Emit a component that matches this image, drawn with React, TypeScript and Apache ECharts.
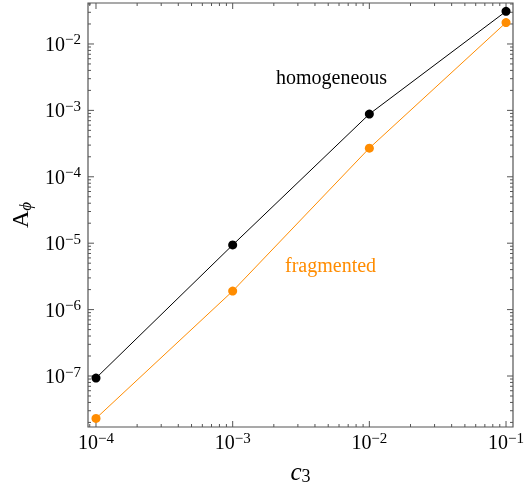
import React, { useEffect, useRef } from 'react';
import * as echarts from 'echarts';

// ---- data ----
const cValues = [1e-4, 1e-3, 1e-2, 1e-1];
const homogeneous = [9.3e-8, 9.4e-6, 8.8e-4, 3.1e-2];
const fragmented = [2.3e-8, 1.9e-6, 2.7e-4, 2.1e-2];
const xTickExponents = [-4, -3, -2, -1];
const yTickExponents = [-7, -6, -5, -4, -3, -2];
const seriesNames = ['homogeneous', 'fragmented'];

const X_MIN = Math.pow(10, -4.0585);
const X_MAX = Math.pow(10, -0.949);
const Y_MIN = Math.pow(10, -7.768);
const Y_MAX = Math.pow(10, -1.383);

const ORANGE = '#ff8c00';
const FRAME = '#555555';
const FONT = '"Liberation Serif", "DejaVu Serif", serif';

function tickList(min: number, max: number): number[][] {
  const out: number[][] = [];
  const lo = Math.floor(Math.log10(min));
  const hi = Math.ceil(Math.log10(max));
  for (let e = lo; e <= hi; e++) {
    for (let m = 1; m <= 9; m++) {
      const v = m * Math.pow(10, e);
      if (v >= min && v <= max) out.push([v, m === 1 ? 1 : 0]);
    }
  }
  return out;
}

function isDecade(v: number, list: number[]): number | null {
  const l = Math.log10(v);
  const r = Math.round(l);
  if (Math.abs(l - r) < 1e-6 && list.indexOf(r) >= 0) return r;
  return null;
}

const labelRich = {
  b: { fontFamily: FONT, fontSize: 20, color: '#000', lineHeight: 24 },
  s: { fontFamily: FONT, fontSize: 15, color: '#000', verticalAlign: 'top', lineHeight: 14 },
};

export default function App() {
  const ref = useRef<HTMLDivElement>(null);
  useEffect(() => {
    if (!ref.current) return;
    const chart = echarts.init(ref.current, undefined, { renderer: 'svg' });
    const xTicks = tickList(X_MIN, X_MAX);
    const yTicks = tickList(Y_MIN, Y_MAX);
    const MAJOR = 6;
    const MINOR = 3;
    const lineStyle = { stroke: FRAME, lineWidth: 1 };

    chart.setOption({
      animation: false,
      grid: {
        left: 88, top: 3, right: 12, bottom: 59,
        containLabel: false,
        outerBoundsMode: 'none',
        show: true, borderColor: FRAME, borderWidth: 1.2, backgroundColor: 'transparent',
      },
      xAxis: {
        type: 'log',
        logBase: 10,
        min: X_MIN,
        max: X_MAX,
        splitNumber: 4,
        axisLine: { show: false },
        axisTick: { show: false },
        splitLine: { show: false },
        axisLabel: {
          margin: 3,
          showMinLabel: false,
          showMaxLabel: false,
          formatter: (v: number) => {
            const e = isDecade(v, xTickExponents);
            return e === null ? '' : `{b|10}{s|−${-e}}`;
          },
          rich: labelRich,
        },
        name: '{c|c}{n|3}',
        nameLocation: 'middle',
        nameGap: 22,
        nameTextStyle: {
          verticalAlign: 'top',
          rich: {
            c: { fontFamily: FONT, fontSize: 25, fontStyle: 'italic', color: '#000', lineHeight: 26, verticalAlign: 'top' },
            n: { fontFamily: FONT, fontSize: 18, color: '#000', verticalAlign: 'bottom', lineHeight: 18, padding: [10, 0, 0, 0] },
          },
        },
      },
      yAxis: {
        type: 'log',
        logBase: 10,
        min: Y_MIN,
        max: Y_MAX,
        splitNumber: 7,
        axisLine: { show: false },
        axisTick: { show: false },
        splitLine: { show: false },
        axisLabel: {
          margin: 7,
          showMinLabel: false,
          showMaxLabel: false,
          formatter: (v: number) => {
            const e = isDecade(v, yTickExponents);
            return e === null ? '' : `{b|10}{s|−${-e}}`;
          },
          rich: labelRich,
        },
        name: '{a|A}{p|ϕ}',
        nameLocation: 'middle',
        nameRotate: 90,
        nameGap: 46,
        nameTextStyle: {
          rich: {
            a: { fontFamily: FONT, fontSize: 24, color: '#000', lineHeight: 26, verticalAlign: 'top' },
            p: { fontFamily: FONT, fontSize: 17, fontStyle: 'italic', color: '#000', verticalAlign: 'bottom', lineHeight: 18, padding: [10, 0, 0, 0] },
          },
        },
      },
      series: [
        {
          name: seriesNames[0],
          type: 'line',
          data: cValues.map((c, i) => [c, homogeneous[i]]),
          symbol: 'circle',
          symbolSize: 9,
          itemStyle: { color: '#000' },
          lineStyle: { color: '#000', width: 1 },
          z: 4,
        },
        {
          name: seriesNames[1],
          type: 'line',
          data: cValues.map((c, i) => [c, fragmented[i]]),
          symbol: 'circle',
          symbolSize: 9,
          itemStyle: { color: ORANGE },
          lineStyle: { color: ORANGE, width: 1 },
          z: 3,
        },
        {
          type: 'custom',
          silent: true,
          clip: false,
          data: xTicks.map((t) => [t[0], 1e-4, t[1]]),
          renderItem: (params: any, api: any) => {
            const cs = params.coordSys;
            const px = api.coord([api.value(0), 1e-4])[0];
            const len = api.value(2) ? MAJOR : MINOR;
            const b = cs.y + cs.height;
            return {
              type: 'group',
              children: [
                { type: 'line', shape: { x1: px, y1: b, x2: px, y2: b - len }, style: lineStyle },
                { type: 'line', shape: { x1: px, y1: cs.y, x2: px, y2: cs.y + len }, style: lineStyle },
              ],
            };
          },
          z: 2,
        },
        {
          type: 'custom',
          silent: true,
          clip: false,
          data: yTicks.map((t) => [1e-3, t[0], t[1]]),
          renderItem: (params: any, api: any) => {
            const cs = params.coordSys;
            const py = api.coord([1e-3, api.value(1)])[1];
            const len = api.value(2) ? MAJOR : MINOR;
            const r = cs.x + cs.width;
            return {
              type: 'group',
              children: [
                { type: 'line', shape: { x1: cs.x, y1: py, x2: cs.x + len, y2: py }, style: lineStyle },
                { type: 'line', shape: { x1: r, y1: py, x2: r - len, y2: py }, style: lineStyle },
              ],
            };
          },
          z: 2,
        },
      ],
      graphic: [
        {
          type: 'text',
          left: 276,
          top: 67,
          style: { text: seriesNames[0], fontFamily: FONT, fontSize: 20, fill: '#000' },
        },
        {
          type: 'text',
          left: 285,
          top: 255,
          style: { text: seriesNames[1], fontFamily: FONT, fontSize: 20, fill: ORANGE },
        },
      ],
    });
    return () => chart.dispose();
  }, []);
  return <div ref={ref} style={{ position: 'fixed', left: 0, top: 0, width: 525, height: 486 }} />;
}
